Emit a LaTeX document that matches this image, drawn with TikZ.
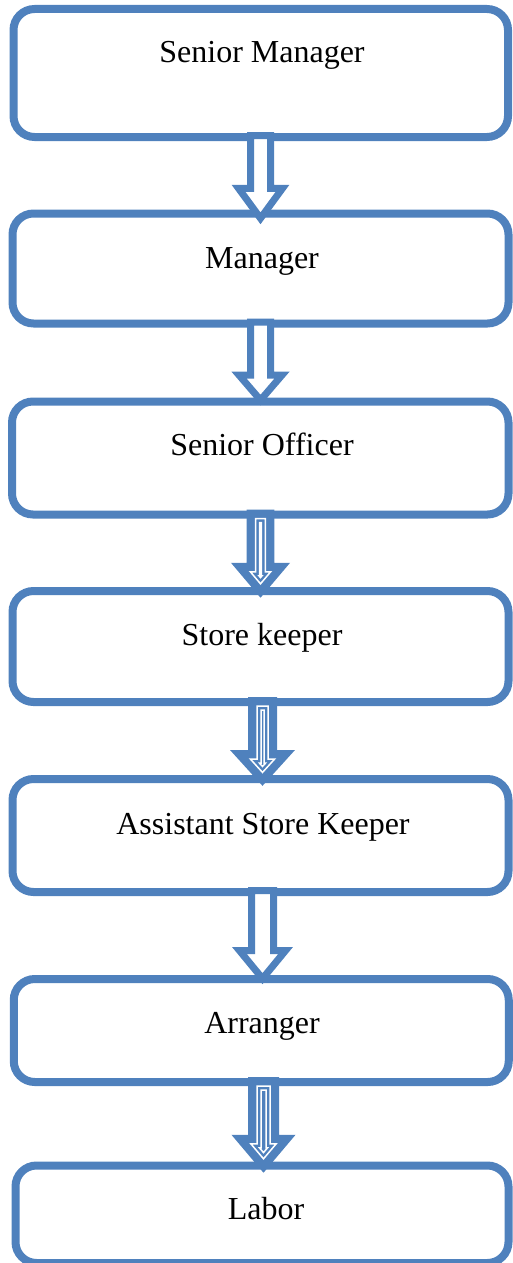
\documentclass[tikz,border=0pt]{standalone}
\usepackage{fontspec}
\setmainfont{Liberation Serif}
\usetikzlibrary{calc}
\definecolor{accent}{RGB}{79,129,189}
\tikzset{
  box/.style={draw=accent, line width=8pt, rounded corners=21pt, inner sep=0pt, fill=white},
  lbl/.style={anchor=base, inner sep=0pt, font=\fontsize{32}{38}\selectfont},
  barrow/.style={draw=accent, fill=white, line width=7pt, line join=miter, miter limit=10},
  solidarrow/.style={barrow, fill=accent},
  wline/.style={draw=white, line width=1.5pt, line join=miter, miter limit=10},
}
% Outline of the current arrow, inset by #1, drawn with style #2
\newcommand\arrowoutline[2]{%
  \pgfmathsetmacro\hyp{sqrt(\ah*\ah+\al*\al)}
  \pgfmathsetmacro\hin{\ah*(1-#1/\al)-#1*\hyp/\al}
  \pgfmathsetmacro\tin{#1*\hyp/\ah}
  \pgfmathsetmacro\win{\aw-#1}
  \pgfmathsetmacro\bin{\al-#1}
  \draw[#2] ($(top)+(-\win,#1)$) -- ($(top)+(\win,#1)$) -- ($(tip)+(\win,-\bin)$)
    -- ($(tip)+(\hin,-\bin)$) -- ($(tip)+(0,-\tin)$) -- ($(tip)+(-\hin,-\bin)$)
    -- ($(tip)+(-\win,-\bin)$) -- cycle;
}
% Block arrow from the bottom of one box into the top of the next.
% #1 upper box, #2 lower box, #3 axis x, #4 half shaft width, #5 half head width,
% #6 head length, #7 tip depth below the lower box's top, #8 plain (0) or lined (1)
\newcommand\flowarrow[8]{%
  \def\aw{#4}\def\ah{#5}\def\al{#6}%
  \coordinate (ax) at (#3,0);
  \coordinate (top) at ($(#1.south -| ax)+(0,-5.5)$);
  \coordinate (tip) at ($(#2.north -| ax)+(0,#7)$);
  \ifnum#8=1
    \arrowoutline{0}{solidarrow}
    \arrowoutline{5.5}{wline}
    \arrowoutline{9.5}{wline}
  \else
    \arrowoutline{0}{barrow}
  \fi
}
\begin{document}
\begin{tikzpicture}[x=1pt, y=-1pt]
\useasboundingbox (0,0) rectangle (513,1263);

% boxes
\node[box, minimum width=494.5pt, minimum height=128pt] (b1) at (260.75,73) {};
\node[box, minimum width=496pt, minimum height=110pt] (b2) at (260.5,268.5) {};
\node[box, minimum width=496.5pt, minimum height=113pt] (b3) at (260.25,458) {};
\node[box, minimum width=496pt, minimum height=111pt] (b4) at (260.5,646.5) {};
\node[box, minimum width=496pt, minimum height=113pt] (b5) at (260.5,835.5) {};
\node[box, minimum width=495pt, minimum height=103pt] (b6) at (261.25,1030.5) {};
\node[box, minimum width=493pt, minimum height=97.5pt] (b7) at (262,1214.25) {};

% arrows
\flowarrow{b1}{b2}{260.5}{10}{22}{30}{8.8}{0}
\flowarrow{b2}{b3}{260.5}{10}{21.5}{25}{2.6}{0}
\flowarrow{b3}{b4}{260.5}{10.3}{22}{26}{5.3}{1}
\flowarrow{b4}{b5}{262.5}{11}{24.5}{27}{5.6}{1}
\flowarrow{b5}{b6}{262.5}{11}{23}{28}{3.6}{0}
\flowarrow{b6}{b7}{263.5}{12}{24.5}{29}{5.8}{1}

% labels
\node[lbl] (t1) at (262,63) {Senior Manager};
\node[lbl] (t2) at (262,268) {Manager};
\node[lbl] (t3) at (262,455) {Senior Officer};
\node[lbl] (t4) at (262,645) {Store keeper};
\node[lbl] (t5) at (263,834) {Assistant Store Keeper};
\node[lbl] (t6) at (262,1033) {Arranger};
\node[lbl] (t7) at (266,1219) {Labor};
\end{tikzpicture}
\end{document}
